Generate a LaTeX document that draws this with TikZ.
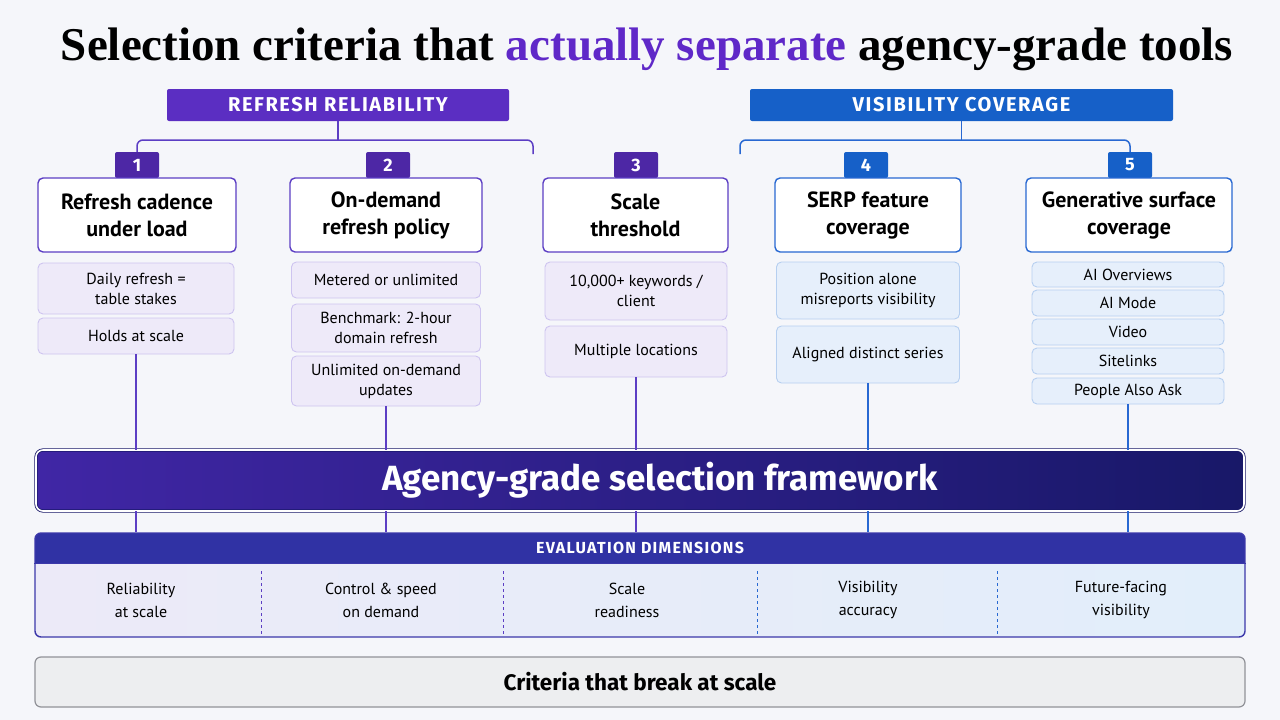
\documentclass[tikz,border=0pt]{standalone}
\usepackage{fontspec}
\setmainfont{PT Sans}
\newfontfamily\headfont{Fira Sans}
\newfontfamily\capsfont[LetterSpace=8.0]{Fira Sans}
\newfontfamily\titlefont{Liberation Serif}
\usepackage{xcolor}

\definecolor{bgcol}{RGB}{245,246,250}
\definecolor{hdpurple}{RGB}{91,46,194}
\definecolor{hdblue}{RGB}{22,96,200}
\definecolor{ttpurple}{RGB}{95,40,200}
\definecolor{bxpurple}{RGB}{92,62,196}
\definecolor{bxblue}{RGB}{40,104,210}
\definecolor{sbpurplefill}{RGB}{238,234,249}
\definecolor{sbpurpledraw}{RGB}{206,196,240}
\definecolor{sbbluefill}{RGB}{230,239,251}
\definecolor{sbbluedraw}{RGB}{182,207,240}
\definecolor{fwleft}{RGB}{64,38,165}
\definecolor{fwright}{RGB}{24,24,104}
\definecolor{evhead}{RGB}{48,50,164}
\definecolor{evleft}{RGB}{236,234,248}
\definecolor{evright}{RGB}{226,238,250}
\definecolor{evdraw}{RGB}{60,56,170}
\definecolor{bbfill}{RGB}{237,238,240}
\definecolor{bbdraw}{RGB}{145,146,152}

\tikzset{
  header/.style={rounded corners=2pt, inner sep=0pt, minimum height=32pt,
    text=white, font=\capsfont\bfseries\fontsize{20}{22}\selectfont},
  badge/.style={rounded corners=2pt, inner sep=0pt, minimum width=44pt, minimum height=26pt,
    text=white, font=\headfont\bfseries\fontsize{18}{20}\selectfont},
  titlebox/.style={draw, line width=1.4pt, fill=white, rounded corners=5pt, inner sep=0pt,
    minimum height=74pt, align=center, font=\bfseries\fontsize{22}{27}\selectfont},
  subbox/.style={draw, line width=0.9pt, rounded corners=5pt, inner sep=0pt,
    align=center, font=\fontsize{16}{20}\selectfont},
  psub/.style={subbox, fill=sbpurplefill, draw=sbpurpledraw, minimum width=190pt},
  bsub/.style={subbox, fill=sbbluefill, draw=sbbluedraw},
  pline/.style={draw=bxpurple, line width=1.5pt},
  bline/.style={draw=bxblue, line width=1.5pt},
  cell/.style={align=center, font=\fontsize{16}{23}\selectfont},
}

\begin{document}
\begin{tikzpicture}[x=1pt,y=1pt,yscale=-1]
% background
\fill[bgcol] (0,0) rectangle (1280,720);

% Text Node
\node[font=\titlefont\bfseries\fontsize{47}{54}\selectfont] (title) at (647,49)
  {Selection criteria that \textcolor{ttpurple}{actually separate} agency-grade tools};

% group headers
\node[header, fill=hdpurple, minimum width=342pt] (hr) at (338,105) {REFRESH RELIABILITY};
\node[header, fill=hdblue, minimum width=423pt] (hv) at (961.5,105) {VISIBILITY COVERAGE};

% badges
\node[badge, fill=hdpurple!85!black] (b1) at (137,165) {1};
\node[badge, fill=hdpurple!85!black] (b2) at (388,165) {2};
\node[badge, fill=hdpurple!85!black] (b3) at (636,165) {3};
\node[badge, fill=hdblue] (b4) at (866,165) {4};
\node[badge, fill=hdblue] (b5) at (1130,165) {5};

% criteria boxes
\node[titlebox, draw=bxpurple, minimum width=198pt] (t1) at (137,215) {Refresh cadence\\under load};
\node[titlebox, draw=bxpurple, minimum width=192pt] (t2) at (386,215) {On-demand\\refresh policy};
\node[titlebox, draw=bxpurple, minimum width=185pt] (t3) at (635.5,215) {Scale\\threshold};
\node[titlebox, draw=bxblue, minimum width=186pt] (t4) at (868,215) {SERP feature\\coverage};
\node[titlebox, draw=bxblue, minimum width=206pt] (t5) at (1129,215) {Generative surface\\coverage};

%Straight Lines (brackets)
\coordinate (rj) at (533,140);
\coordinate (rs) at (533,154);
\coordinate (vj) at (740,140);
\coordinate (vs) at (740,154);
\draw[pline, rounded corners=6pt] (b1.north) |- (rj) -- (rs);
\draw[pline] (hr.south) -- (hr.south |- rj);
\draw[bline, rounded corners=6pt] (vs) -- (vj) -| (b5.north);
\draw[bline] (hv.south) -- (hv.south |- vj);

% detail boxes, column 1
\node[psub, minimum width=196pt, minimum height=51pt] (s11) at (136,288.5) {Daily refresh =\\table stakes};
\node[psub, minimum width=196pt, minimum height=36pt] (s12) at (136,336) {Holds at scale};
% column 2
\node[psub, minimum width=189pt, minimum height=36pt] (s21) at (386,280) {Metered or unlimited};
\node[psub, minimum width=189pt, minimum height=48pt] (s22) at (386,328) {Benchmark: 2-hour\\domain refresh};
\node[psub, minimum width=189pt, minimum height=50pt] (s23) at (386,381) {Unlimited on-demand\\updates};
% column 3
\node[psub, minimum width=182pt, minimum height=58pt] (s31) at (636,291) {10,000+ keywords /\\client};
\node[psub, minimum width=182pt, minimum height=51pt] (s32) at (636,351.5) {Multiple locations};
% column 4
\node[bsub, minimum width=183pt, minimum height=57pt] (s41) at (868,290.5) {Position alone\\misreports visibility};
\node[bsub, minimum width=183pt, minimum height=57pt] (s42) at (868,354.5) {Aligned distinct series};
% column 5
\node[bsub, minimum width=192pt, minimum height=25pt] (s51) at (1128,274.5) {AI Overviews};
\node[bsub, minimum width=192pt, minimum height=26pt] (s52) at (1128,303) {AI Mode};
\node[bsub, minimum width=192pt, minimum height=26pt] (s53) at (1128,332) {Video};
\node[bsub, minimum width=192pt, minimum height=26pt] (s54) at (1128,361) {Sitelinks};
\node[bsub, minimum width=192pt, minimum height=26pt] (s55) at (1128,391) {People Also Ask};

% framework bar
\node[draw=fwright, double=white, double distance=1.6pt, line width=0.8pt, rounded corners=7pt,
  left color=fwleft, right color=fwright, minimum width=1208pt, minimum height=61pt, inner sep=0pt,
  text=white, font=\headfont\bfseries\fontsize{35}{40}\selectfont] (fw) at (640,480.5)
  {\hspace*{40pt}Agency-grade selection framework};

% evaluation panel
\begin{scope}
\clip[rounded corners=6pt] (35,533) rectangle (1245,637);
\fill[evhead] (35,533) rectangle (1245,563);
\shade[left color=evleft, right color=evright] (35,563) rectangle (1245,637);
\end{scope}
\node[draw=evdraw, line width=1.4pt, rounded corners=6pt, minimum width=1210pt,
  minimum height=104pt, inner sep=0pt] (ev) at (640,585) {};
\draw[evdraw, line width=1pt] (ev.west |- 0,563) -- (ev.east |- 0,563);
\node[text=white, font=\capsfont\bfseries\fontsize{16}{18}\selectfont] (evh) at (640,548) {EVALUATION DIMENSIONS};

% Text Node
\node[cell] (d1) at (141,600) {Reliability\\at scale};
\node[cell] (d2) at (381,600) {Control \& speed\\on demand};
\node[cell] (d3) at (627,600) {Scale\\readiness};
\node[cell] (d4) at (868,600) {Visibility\\accuracy};
\node[cell] (d5) at (1121,600) {Future-facing\\visibility};

%Straight Lines (dividers)
\draw[bxpurple, dashed, line width=1pt] (261,571) -- (261,636);
\draw[bxpurple, dashed, line width=1pt] (503,571) -- (503,636);
\draw[bxblue, dashed, line width=1pt] (757,571) -- (757,636);
\draw[bxblue, dashed, line width=1pt] (997,571) -- (997,636);

% bottom bar
\node[draw=bbdraw, fill=bbfill, line width=1.2pt, rounded corners=6pt, minimum width=1210pt,
  minimum height=50pt, inner sep=0pt, font=\headfont\bfseries\fontsize{22.5}{26}\selectfont] (bb) at (640,682)
  {Criteria that break at scale};

%Straight Lines (connectors)
\draw[pline] (s12.south) -- (s12.south |- fw.north);
\draw[pline] (s23.south) -- (s23.south |- fw.north);
\draw[pline] (s32.south) -- (s32.south |- fw.north);
\draw[bline] (s42.south) -- (s42.south |- fw.north);
\draw[bline] (s55.south) -- (s55.south |- fw.north);
\draw[pline] (fw.south -| s12) -- (ev.north -| s12);
\draw[pline] (fw.south -| s23) -- (ev.north -| s23);
\draw[pline] (fw.south -| s32) -- (ev.north -| s32);
\draw[bline] (fw.south -| s42) -- (ev.north -| s42);
\draw[bline] (fw.south -| s55) -- (ev.north -| s55);
\end{tikzpicture}
\end{document}
